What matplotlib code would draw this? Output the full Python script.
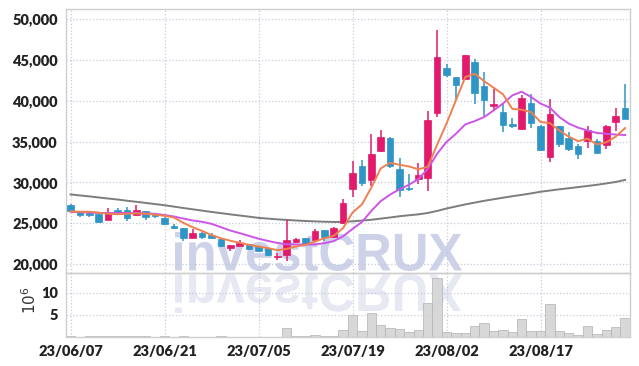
import numpy as np
import matplotlib
matplotlib.use("Agg")
import matplotlib.pyplot as plt
from matplotlib.ticker import FuncFormatter
from matplotlib.textpath import TextPath
from matplotlib.patches import PathPatch
from matplotlib.font_manager import FontProperties
from matplotlib.transforms import Affine2D

# trading days (yy/mm/dd)
dates = [
    "23/06/07", "23/06/08", "23/06/09", "23/06/12", "23/06/13", "23/06/14", "23/06/15", "23/06/16",
    "23/06/19", "23/06/20", "23/06/21", "23/06/22", "23/06/23", "23/06/26", "23/06/27", "23/06/28",
    "23/06/29", "23/06/30", "23/07/03", "23/07/04", "23/07/05", "23/07/06", "23/07/07", "23/07/10",
    "23/07/11", "23/07/12", "23/07/13", "23/07/14", "23/07/17", "23/07/18", "23/07/19", "23/07/20",
    "23/07/21", "23/07/24", "23/07/25", "23/07/26", "23/07/27", "23/07/28", "23/07/31", "23/08/01",
    "23/08/02", "23/08/03", "23/08/04", "23/08/07", "23/08/08", "23/08/09", "23/08/10", "23/08/11",
    "23/08/14", "23/08/16", "23/08/17", "23/08/18", "23/08/21", "23/08/22", "23/08/23", "23/08/24",
    "23/08/25", "23/08/28", "23/08/29", "23/08/30",
]

opens = [27250, 26350, 26250, 26100, 25450, 26600, 26650, 25950, 26450, 26050,
         25650, 24650, 24400, 23200, 23750, 23550, 23100, 21950, 22250, 22400,
         22050, 21950, 20900, 21100, 22750, 23150, 23000, 24150, 23350, 25050,
         29150, 31950, 30300, 33800, 35450, 31600, 29250, 30450, 30550, 38500,
         44000, 42850, 42600, 44800, 41850, 39400, 38650, 37100, 36500, 39700,
         36850, 33100, 36850, 35450, 34400, 35050, 35100, 34550, 37350, 39050]
highs = [27400, 26400, 26400, 26150, 26850, 26850, 26950, 27250, 26450, 26250,
         25700, 24900, 24450, 24250, 23900, 23850, 23200, 22350, 22950, 22500,
         22200, 22000, 21350, 25450, 23150, 23200, 24250, 24150, 24550, 28000,
         32650, 32750, 35950, 36450, 35500, 33000, 31050, 32350, 38750, 48650,
         44500, 42850, 45650, 45050, 43500, 41450, 39550, 37900, 40700, 40850,
         37000, 40150, 36900, 36200, 34700, 36950, 35300, 37000, 39150, 42000]
lows = [26400, 25800, 25800, 25050, 25400, 26050, 25300, 25900, 25450, 25650,
        24800, 24300, 22850, 23150, 23100, 23100, 22100, 21650, 22150, 21700,
        21500, 21000, 20450, 20350, 22600, 22300, 22950, 22850, 23200, 24950,
        28150, 29600, 29550, 33700, 31750, 28250, 28900, 29850, 28950, 38050,
        42950, 40050, 42550, 39650, 38100, 38750, 36200, 36600, 36400, 36600,
        33800, 32500, 34300, 33800, 32850, 34250, 33500, 34050, 36350, 37700]
closes = [26450, 25950, 26050, 25200, 26350, 26350, 25650, 26600, 25700, 25850,
          24850, 24350, 23200, 23800, 23350, 23150, 22250, 22300, 22550, 21900,
          21600, 21100, 20950, 23000, 23050, 22450, 24050, 23350, 24400, 27500,
          31200, 29900, 33500, 35600, 31950, 29050, 29200, 30950, 37600, 45300,
          43100, 41950, 45600, 40950, 40050, 39650, 37000, 36850, 40300, 37250,
          34000, 38350, 34650, 34050, 33500, 36450, 33550, 36950, 38100, 37750]

# moving averages as drawn (5, 10, 60 days)
ma5 = [26450, 26400, 26400, 26300, 26150, 26100, 26150, 26200, 26150, 26050,
       25900, 25700, 25050, 24500, 24050, 23550, 23150, 22850, 22600, 22350,
       22150, 21950, 21700, 21850, 22150, 22350, 22750, 23150, 23450, 24400,
       26300, 27300, 29350, 31700, 32400, 32150, 31950, 31600, 31900, 34600,
       37200, 40050, 42900, 43300, 42400, 41600, 40800, 39000, 38900, 38600,
       37400, 37250, 36350, 35600, 35050, 35350, 34650, 34900, 35600, 36650]
ma10 = [26400, 26350, 26300, 26250, 26250, 26250, 26250, 26250, 26200, 26150,
        26000, 25820, 25570, 25330, 25170, 24920, 24510, 24100, 23780, 23440,
        23100, 22830, 22580, 22420, 22400, 22380, 22400, 22550, 22800, 23400,
        24300, 25150, 26500, 27700, 28500, 29150, 29700, 30400, 31650, 33500,
        34950, 35950, 37100, 37500, 38000, 38800, 39650, 40650, 41100, 40450,
        39650, 39150, 38000, 37200, 36700, 36350, 36050, 35950, 35850, 35800]
ma60 = [28520, 28400, 28280, 28150, 28020, 27900, 27750, 27620, 27480, 27340,
        27200, 27030, 26860, 26700, 26540, 26380, 26230, 26080, 25940, 25800,
        25650, 25560, 25470, 25400, 25330, 25270, 25220, 25180, 25150, 25160,
        25230, 25320, 25420, 25560, 25700, 25850, 25970, 26080, 26250, 26500,
        26800, 27050, 27300, 27520, 27740, 27930, 28120, 28300, 28470, 28650,
        28850, 29000, 29150, 29280, 29420, 29560, 29700, 29870, 30050, 30300]

# volume in millions
volume = [0.2, 0.05, 0.15, 0.15, 0.3, 0.15, 0.15, 0.3, 0.15, 0.05,
          0.15, 0.05, 0.15, 0.05, 0.05, 0.05, 0.2, 0.05, 0.05, 0.05,
          0.05, 0.05, 0.05, 2.0, 0.15, 0.2, 0.4, 0.25, 0.25, 1.6,
          4.9, 1.3, 5.4, 2.8, 2.0, 1.8, 1.1, 1.6, 7.6, 13.2,
          1.1, 0.9, 0.9, 2.5, 3.1, 1.3, 1.6, 1.1, 4.0, 1.3,
          1.3, 7.4, 1.3, 0.9, 0.45, 2.5, 0.75, 1.6, 2.2, 4.25]

up_color = "#e3196b"
down_color = "#2f95c6"
grid_color = "#c6cadc"
spine_color = "#cfcfcf"
tick_font = FontProperties(family=["Lato", "DejaVu Sans"], weight="heavy", size=10.5)

x = np.arange(len(dates))
o = np.array(opens)
h = np.array(highs)
l = np.array(lows)
c = np.array(closes)
colors = [up_color if cc >= oo else down_color for oo, cc in zip(o, c)]

fig = plt.figure(figsize=(6.39, 3.66), dpi=100)
ax = fig.add_axes([66 / 639, 93 / 366, 564 / 639, 264 / 366])
axv = fig.add_axes([66 / 639, 29 / 366, 564 / 639, 64 / 366], sharex=ax)
ax.set_facecolor("none")
axv.set_facecolor("none")

# watermark with reflection, in pixel coords
tp = TextPath((0, 0), "investCRUX", size=50,
              prop=FontProperties(family="Liberation Sans", weight="bold"))
ext = tp.get_extents()
sx = (462 - 175) / ext.width
sy = (271 - 232) / ext.height
to_fig = Affine2D().scale(1 / fig.dpi) + fig.dpi_scale_trans
front = Affine2D().translate(-ext.x0, -ext.y0).scale(sx, sy).translate(175, 366 - 271)
mirror = Affine2D().translate(-ext.x0, -ext.y0).scale(sx, -sy).translate(175, 366 - 274)
fig.add_artist(PathPatch(tp, transform=front + to_fig, facecolor="#cdd2e8", edgecolor="none", zorder=-1))
fig.add_artist(PathPatch(tp, transform=mirror + to_fig, facecolor="#e6e8f2", edgecolor="none", zorder=-1))

# candles
ax.vlines(x, l, h, color=colors, linewidth=1.1, zorder=3)
body = np.maximum(np.abs(c - o), 60)
ax.bar(x, body, bottom=np.minimum(o, c), width=0.7, color=colors,
       edgecolor=colors, linewidth=0.5, zorder=4)

ax.plot(x, ma60, color="#7d7d7d", linewidth=1.4, zorder=2)
ax.plot(x, ma10, color="#cc55e8", linewidth=1.4, zorder=5)
ax.plot(x, ma5, color="#ee8150", linewidth=1.4, zorder=5)

ax.set_xlim(-0.48, 59.52)
ax.set_ylim(18900, 51230)
ax.set_yticks([20000, 25000, 30000, 35000, 40000, 45000, 50000])
ax.yaxis.set_major_formatter(FuncFormatter(lambda v, p: f"{int(v):,}"))
ax.grid(True, linestyle=":", color=grid_color, linewidth=0.9)
plt.setp(ax.get_xticklabels(), visible=False)

# volume
axv.bar(x, volume, width=1.0, color="#d4d4d4", edgecolor="#b5b5b5", linewidth=0.6, alpha=0.9)
axv.set_ylim(0, 14.4)
axv.set_yticks([5, 10])
axv.set_ylabel(r"$\mathsf{10^{6}}$", fontsize=11, color="#333333")
axv.yaxis.set_label_coords(-0.047, 0.58)
axv.grid(True, linestyle=":", color=grid_color, linewidth=0.9)
axv.set_xticks(x[::10])
axv.set_xticklabels(dates[::10])

for a in (ax, axv):
    a.set_axisbelow(True)
    a.tick_params(length=0, pad=6, colors="#222222")
    for lab in a.get_xticklabels() + a.get_yticklabels():
        lab.set_fontproperties(tick_font)
    for s in a.spines.values():
        s.set_color(spine_color)
        s.set_linewidth(1.0)

fig.savefig("out.png", dpi=100)
